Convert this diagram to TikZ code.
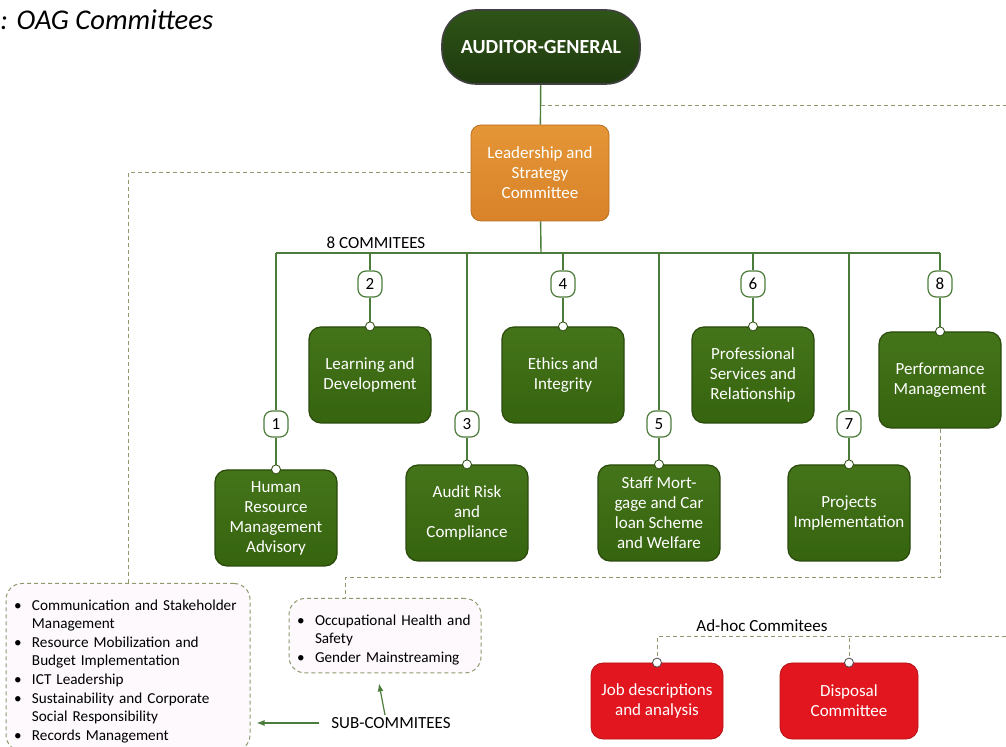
\documentclass[tikz,border=0pt]{standalone}
\usepackage{fontspec}
\setmainfont{Carlito}
\usetikzlibrary{arrows.meta,positioning,calc}
\definecolor{agdark}{HTML}{1E3A0E}
\definecolor{agtop}{HTML}{2F5418}
\definecolor{comgreen}{HTML}{36640F}
\definecolor{comtop}{HTML}{44741A}
\definecolor{comedge}{HTML}{2A4A0C}
\definecolor{lineg}{HTML}{4C7C3A}
\definecolor{leadorange}{HTML}{D9822A}
\definecolor{leadtop}{HTML}{E49636}
\definecolor{adhocred}{HTML}{E2161E}
\definecolor{dashg}{HTML}{8E9A6C}
\definecolor{subfill}{HTML}{FDF9FD}
\newcommand{\bitem}[1]{\par\noindent\hangindent=9pt\hangafter=1\makebox[9pt][l]{\textbullet}#1}
\newcommand{\nl}{\hfil\break}
\tikzset{
  agbox/.style={draw=black!75, line width=0.8pt, rounded corners=17pt, top color=agtop, bottom color=agdark, text=white, font=\fontsize{10}{12}\selectfont\bfseries, minimum width=99pt, minimum height=37pt},
  leadbox/.style={draw=leadorange!85!black, rounded corners=5pt, top color=leadtop, bottom color=leadorange, text=white, align=center, font=\fontsize{8.5}{10}\selectfont, minimum width=69pt, minimum height=48pt},
  combox/.style={draw=comedge, line width=0.6pt, rounded corners=6pt, top color=comtop, bottom color=comgreen, text=white, align=center, font=\fontsize{8.5}{10}\selectfont, minimum width=61pt, minimum height=48pt, inner sep=1pt},
  redbox/.style={draw=adhocred!80!black, rounded corners=6pt, fill=adhocred, text=white, align=center, font=\fontsize{8.5}{10}\selectfont, minimum height=38pt, inner sep=1pt},
  badge/.style={draw=lineg, line width=0.6pt, fill=white, rounded corners=4pt, minimum width=12pt, minimum height=13pt, inner sep=0pt, font=\fontsize{8.5}{9}\selectfont},
  tapdot/.style={circle, fill=white, draw=comedge, line width=0.4pt, inner sep=0pt, minimum size=4.5pt},
  link/.style={draw=lineg, line width=0.7pt},
  dashlink/.style={draw=dashg, line width=0.5pt, dash pattern=on 2pt off 1.5pt},
  subbox/.style={draw=dashg, line width=0.5pt, dash pattern=on 2pt off 1.5pt, rounded corners=8pt, fill=subfill, font=\fontsize{7.6}{9.3}\selectfont, inner sep=4pt},
  arrow/.style={-{Latex[length=4pt,width=3pt]}, draw=lineg, line width=0.6pt},
  lbl/.style={font=\fontsize{8.5}{10}\selectfont, inner sep=1pt}
}

\begin{document}
\begin{tikzpicture}[x=0.5pt, y=-0.5pt]
  \useasboundingbox (0,0) rectangle (1006,747);

  % title
  \node[anchor=west, inner sep=0pt, font=\fontsize{14.3}{16}\selectfont\itshape] (title) at (0,20) {: OAG Committees};

  % top of the chart
  \node[agbox] (ag) at (541,47) {AUDITOR-GENERAL};
  \node[leadbox] (lead) at (540,173) {Leadership and\\Strategy\\Committee};
  \draw[link] (ag) -- (lead);
  \coordinate (agtap) at (541,106);
  \coordinate (agend) at (1006,106);
  \draw[dashlink] (agtap) -- (agend);

  % the 8 commitees
  \node[combox] (hr)    at (276,518) {Human\\Resource\\Management\\Advisory};
  \node[combox] (learn) at (370,375) {Learning and\\Development};
  \node[combox] (audit) at (467,513) {Audit Risk\\and\\Compliance};
  \node[combox] (ethic) at (563,375) {Ethics and\\Integrity};
  \node[combox] (staff) at (659,513) {Staff Mort-\\gage and Car\\loan Scheme\\and Welfare};
  \node[combox] (prof)  at (753,375) {Professional\\Services and\\Relationship};
  \node[combox] (proj)  at (849,513) {Projects\\Implementation};
  \node[combox] (perf)  at (940,380) {Performance\\Management};

  \coordinate (bus) at (541,253);
  \draw[link] (lead) -- (bus);
  \draw[link] (hr |- bus) -- (perf |- bus);
  \node[lbl, above=1pt of bus -| learn, xshift=3pt] (eight) {8 COMMITEES};

  \foreach \n/\c/\y in {1/hr/424, 2/learn/284, 3/audit/424, 4/ethic/284,
                        5/staff/424, 6/prof/284, 7/proj/424, 8/perf/284} {
    \node[badge] (b\n) at (\c |- 0,\y) {\n};
    \draw[link] (\c |- bus) -- (b\n) -- (\c.north);
    \node[tapdot] at (\c.north) {};
  }

  % sub-commitees
  \node[subbox, anchor=north, text width=114pt] (subA) at (128,583) {%
    \bitem{Communication and Stakeholder\nl Management}
    \bitem{Resource Mobilization and\nl Budget Implementation}
    \bitem{ICT Leadership}
    \bitem{Sustainability and Corporate\nl Social Responsibility}
    \bitem{Records Management}\par\vspace{6pt}};
  \node[subbox, anchor=north, text width=88pt] (subB) at (385,598) {%
    \bitem{Occupational Health and\nl Safety}
    \bitem{Gender Mainstreaming}\par\vspace{3pt}};

  \draw[dashlink] (lead.west) -| (subA.north);
  \draw[dashlink] (perf.south) |- ([xshift=-20pt,yshift=10pt]subB.north) -- ([xshift=-20pt]subB.north);

  \node[lbl] (sublbl) at (391,723) {SUB-COMMITEES};
  \draw[arrow] ([xshift=-5pt]sublbl.west) -- ([xshift=3pt]subA.east |- sublbl.west);
  \draw[arrow] ([xshift=-3pt]sublbl.north) -- ([xshift=-3pt,yshift=-5pt]subB.south);

  % ad-hoc commitees
  \node[redbox, minimum width=66pt] (job)  at (657,701) {Job descriptions\\and analysis};
  \node[redbox, minimum width=69pt] (disp) at (849,701) {Disposal\\Committee};
  \coordinate (adhoc) at (657,637);
  \coordinate (adend) at (1006,637);
  \draw[dashlink] (job.north) -- (adhoc) -- (adend);
  \draw[dashlink] (disp.north) -- (disp.north |- adhoc);
  \node[tapdot, draw=black!70] at (job.north) {};
  \node[tapdot, draw=black!70] at (disp.north) {};
  \node[lbl] (adlbl) at (762,626) {Ad-hoc Commitees};
\end{tikzpicture}
\end{document}
